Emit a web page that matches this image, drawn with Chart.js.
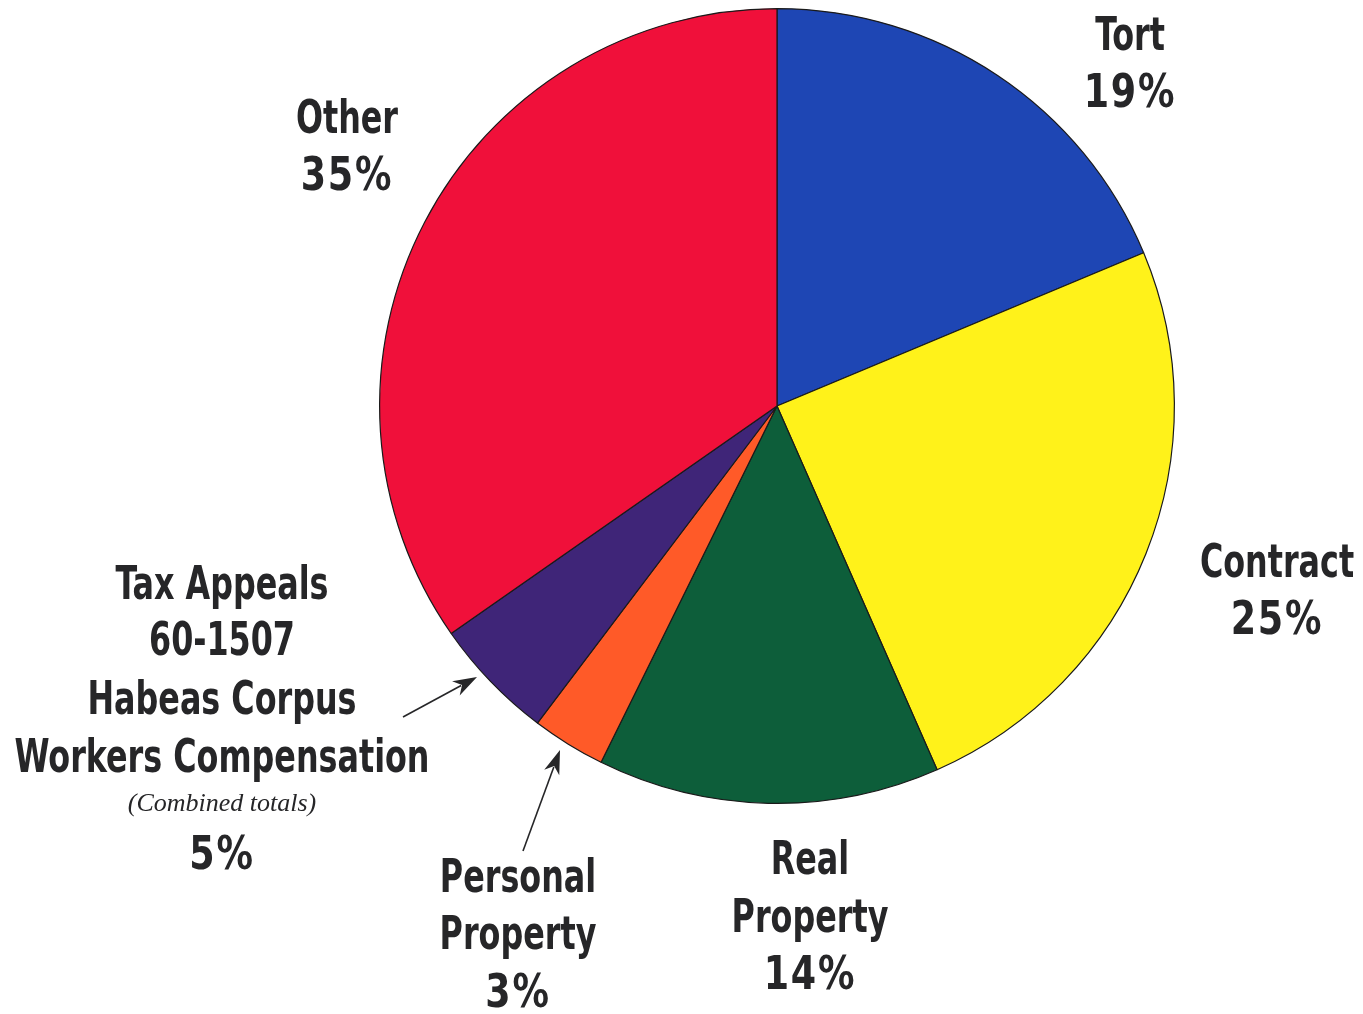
<!DOCTYPE html>
<html>
<head>
<meta charset="utf-8">
<script src="https://cdn.jsdelivr.net/npm/chart.js@4.4.1/dist/chart.umd.min.js"></script>
<style>
html,body{margin:0;padding:0;background:#fff;}
#wrap{width:1363px;height:1014px;position:relative;}
</style>
</head>
<body>
<div id="wrap"><canvas id="c" width="1363" height="1014"></canvas></div>
<script>
// Data
const categories = ["Tort", "Contract", "Real Property", "Personal Property", "Tax Appeals / 60-1507 / Habeas Corpus / Workers Compensation", "Other"];
const shares = [18.7, 24.7, 13.9, 3.0, 5.0, 34.7];
const percentLabels = ["19%", "25%", "14%", "3%", "5%", "35%"];
const sliceColors = ["#1e46b4", "#fff21a", "#0d5e3a", "#ff5a28", "#3f2578", "#f0103a"];

const NAME_FONT = "bold 46px 'DejaVu Sans Condensed', 'DejaVu Sans', sans-serif";
const PCT_FONT = "600 44px 'DejaVu Sans Condensed', 'DejaVu Sans', sans-serif";
const ITAL_FONT = "italic 26px 'Liberation Serif', serif";
const INK = "#262628";

const labelBlocks = [
  {lines: [["Tort","n"],["19%","p"]], x:1130, y:[38,95]},
  {lines: [["Contract","n"],["25%","p"]], x:1277, y:[565,622]},
  {lines: [["Real","n"],["Property","n"],["14%","p"]], x:810, y:[862,920,977]},
  {lines: [["Personal","n"],["Property","n"],["3%","p"]], x:518, y:[880,937,995]},
  {lines: [["Tax Appeals","n"],["60-1507","n"],["Habeas Corpus","n"],["Workers Compensation","n"],["(Combined totals)","i"],["5%","p"]], x:222, y:[587,643,702,760,804,857]},
  {lines: [["Other","n"],["35%","p"]], x:347, y:[121,178]}
];
const arrows = [
  {from:[403,717], to:[477,677]},
  {from:[523,851], to:[560,750]}
];

const labelPlugin = {
  id: 'labels',
  afterDraw(chart) {
    const ctx = chart.ctx;
    ctx.save();
    ctx.fillStyle = INK;
    ctx.textAlign = 'center';
    ctx.textBaseline = 'middle';
    ctx.font = NAME_FONT;
    const sx = 415 / ctx.measureText("Workers Compensation").width;
    labelBlocks.forEach(b => {
      b.lines.forEach((ln, i) => {
        const [t, k] = ln;
        ctx.save();
        if (k === 'i') {
          ctx.font = ITAL_FONT;
          ctx.fillText(t, b.x, b.y[i]);
        } else if (k === 'n') {
          ctx.font = NAME_FONT;
          ctx.translate(b.x, b.y[i]);
          ctx.scale(sx, 1);
          ctx.fillText(t, 0, 0);
        } else {
          ctx.font = PCT_FONT;
          ctx.translate(b.x, b.y[i]);
          ctx.scale(0.92, 1.05);
          ctx.letterSpacing = "2px";
          ctx.fillText(t, 0, 0);
        }
        ctx.restore();
      });
    });
    ctx.strokeStyle = INK;
    ctx.fillStyle = INK;
    ctx.lineWidth = 1.6;
    arrows.forEach(a => {
      const [x1,y1] = a.from, [x2,y2] = a.to;
      const ang = Math.atan2(y2-y1, x2-x1);
      const L = 24, W = 8;
      const bx = x2 - L*Math.cos(ang), by = y2 - L*Math.sin(ang);
      ctx.beginPath(); ctx.moveTo(x1,y1); ctx.lineTo(bx + 6*Math.cos(ang), by + 6*Math.sin(ang)); ctx.stroke();
      ctx.beginPath();
      ctx.moveTo(x2,y2);
      ctx.lineTo(bx + W*Math.sin(ang), by - W*Math.cos(ang));
      ctx.lineTo(bx + 7*Math.cos(ang), by + 7*Math.sin(ang));
      ctx.lineTo(bx - W*Math.sin(ang), by + W*Math.cos(ang));
      ctx.closePath(); ctx.fill();
    });
    ctx.restore();
  }
};

new Chart(document.getElementById('c'), {
  type: 'pie',
  data: {
    labels: categories,
    datasets: [{
      data: shares,
      backgroundColor: sliceColors,
      borderColor: '#1a1a1a',
      borderWidth: 1.2
    }]
  },
  options: {
    responsive: false,
    animation: false,
    layout: {padding: {left: 378, right: 187, top: 8, bottom: 210}},
    plugins: {legend: {display: false}, tooltip: {enabled: false}}
  },
  plugins: [labelPlugin]
});
</script>
</body>
</html>
